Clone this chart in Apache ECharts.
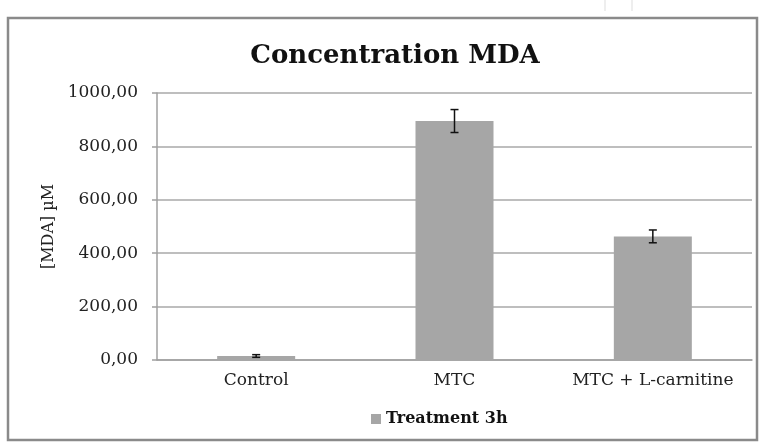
<!DOCTYPE html>
<html>
<head>
<meta charset="utf-8">
<script src="https://cdn.jsdelivr.net/npm/echarts@6/dist/echarts.min.js"></script>
<style>html,body{margin:0;padding:0;background:#fff}#c{width:764px;height:446px}</style>
</head>
<body>
<div id="c"></div>
<script>
var categories = ['Control', 'MTC', 'MTC + L-carnitine'];
var seriesName = 'Treatment 3h';
var values = [15, 895, 463];
var errors = [5, 43, 24];
var yTicks = [0, 200, 400, 600, 800, 1000];
var titleText = 'Concentration MDA';
var yAxisTitle = '[MDA] µM';

var serif = '"DejaVu Serif", "Liberation Serif", serif';
var chart = echarts.init(document.getElementById('c'));
var errData = values.map(function (v, i) { return [i, v - errors[i], v + errors[i]]; });

chart.setOption({
  animation: false,
  title: {
    text: titleText, left: 390, top: 38, textAlign: 'center',
    textStyle: { fontFamily: serif, fontWeight: 'bold', fontSize: 26, color: '#111' }
  },
  legend: {
    data: [seriesName], left: 366, top: 406, itemWidth: 10, itemHeight: 10, itemGap: 6,
    icon: 'rect',
    textStyle: { fontFamily: serif, fontWeight: 'bold', fontSize: 16, color: '#111' }
  },
  grid: { left: 157, right: 12, top: 93, bottom: 86 },
  xAxis: {
    type: 'category', data: categories,
    axisLine: { lineStyle: { color: '#a0a0a0', width: 1.5 } },
    axisTick: { show: false },
    axisLabel: { interval: 0, fontFamily: serif, fontSize: 17, color: '#222', margin: 12 }
  },
  yAxis: {
    type: 'value', min: yTicks[0], max: yTicks[yTicks.length - 1], interval: 200,
    name: yAxisTitle, nameLocation: 'middle', nameGap: 98, nameRotate: 90,
    nameTextStyle: { fontFamily: serif, fontSize: 16, color: '#222' },
    axisLine: { show: true, lineStyle: { color: '#a0a0a0', width: 1.5 } },
    axisTick: { show: true, length: 5, lineStyle: { color: '#a0a0a0', width: 1.5 } },
    splitLine: { lineStyle: { color: '#a8a8a8', width: 1.5 } },
    axisLabel: {
      fontFamily: serif, fontSize: 17, color: '#222', margin: 19,
      formatter: function (v) { return v.toFixed(2).replace('.', ','); }
    }
  },
  graphic: [
    { type: 'rect', shape: { x: 8, y: 18, width: 749, height: 422 },
      style: { fill: null, stroke: '#8a8a8a', lineWidth: 2.5 }, silent: true },
    { type: 'line', shape: { x1: 605, y1: 0, x2: 605, y2: 11 }, style: { stroke: '#eeeeee', lineWidth: 2 } },
    { type: 'line', shape: { x1: 632, y1: 0, x2: 632, y2: 11 }, style: { stroke: '#eeeeee', lineWidth: 2 } }
  ],
  series: [
    {
      name: seriesName, type: 'bar', data: values, barWidth: 78,
      itemStyle: { color: '#a6a6a6' }
    },
    {
      type: 'custom', data: errData, z: 5, silent: true,
      renderItem: function (params, api) {
        var x = api.value(0);
        var lo = api.coord([x, api.value(1)]);
        var hi = api.coord([x, api.value(2)]);
        var hw = 4;
        var st = { stroke: '#111', lineWidth: 1.5 };
        return { type: 'group', children: [
          { type: 'line', shape: { x1: lo[0], y1: lo[1], x2: hi[0], y2: hi[1] }, style: st },
          { type: 'line', shape: { x1: lo[0] - hw, y1: lo[1], x2: lo[0] + hw, y2: lo[1] }, style: st },
          { type: 'line', shape: { x1: hi[0] - hw, y1: hi[1], x2: hi[0] + hw, y2: hi[1] }, style: st }
        ] };
      }
    }
  ]
});
</script>
</body>
</html>
